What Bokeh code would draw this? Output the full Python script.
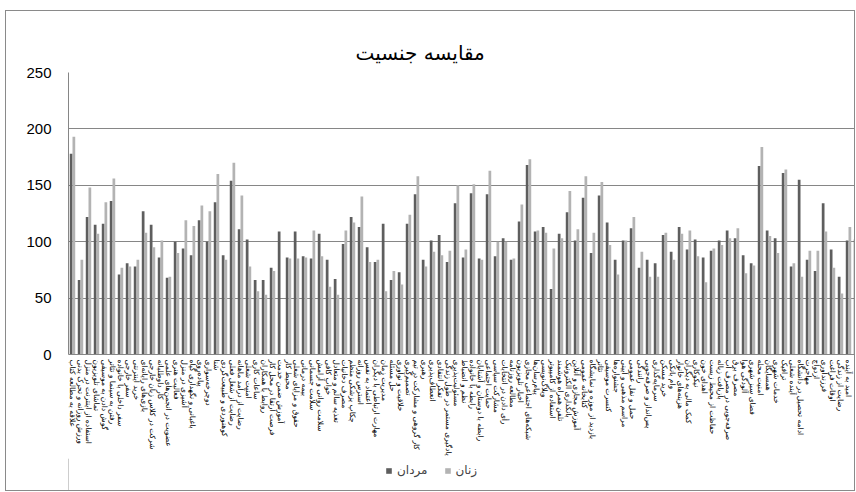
from bokeh.plotting import figure
from bokeh.models import ColumnDataSource, Range1d, FixedTicker, Legend, LegendItem
from bokeh.layouts import column
from bokeh.transform import dodge
from bokeh.embed import file_html
from bokeh.resources import INLINE

title_text = "مقایسه جنسیت"
series_names = ["مردان", "زنان"]
series_colors = ["#5e5e5e", "#b3b3b3"]

categories = [
    "علاقه به مطالعه کتاب", "ورزش روزانه و تحرک بدنی", "استفاده از اینترنت در منزل",
    "تماشای تلویزیون", "گوش دادن به موسیقی", "رفتن به سینما و تئاتر", "سفر داخلی با خانواده",
    "سفر خارجی", "خرید اینترنتی", "بازی‌های رایانه‌ای",
    "شرکت در کلاس زبان خارجی", "کار داوطلبانه", "عضویت در انجمن‌های علمی", "فعالیت هنری",
    "آشپزی در منزل", "باغبانی و نگهداری گیاه", "پیاده‌روی", "دوچرخه‌سواری", "شنا",
    "کوهنوردی و طبیعت‌گردی",
    "رضایت از شغل فعلی", "رضایت از درآمد ماهانه", "امنیت شغلی", "ساعات کاری",
    "روابط با همکاران", "فرصت ارتقا در محل کار", "آموزش ضمن خدمت", "محیط کار",
    "حقوق و مزایای شغلی", "بیمه درمانی",
    "سلامت جسمانی", "سلامت روانی و آرامش", "خواب کافی", "تغذیه سالم و متعادل",
    "مصرف دخانیات", "چکاپ پزشکی منظم", "استرس روزانه", "اعتماد به نفس",
    "مهارت ارتباطی با دیگران", "مدیریت زمان",
    "حل مسئله", "خلاقیت و نوآوری", "تصمیم‌گیری", "کار گروهی و مشارکت در تیم", "رهبری",
    "انعطاف‌پذیری", "تفکر انتقادی", "یادگیری مستمر در طول زندگی", "مسئولیت‌پذیری",
    "نظم و انضباط",
    "رابطه با خانواده", "رابطه با دوستان و آشنایان", "حمایت اجتماعی", "مشارکت سیاسی",
    "رأی دادن در انتخابات", "مطالعه روزنامه", "اخبار تلویزیون", "شبکه‌های اجتماعی مجازی",
    "پیام‌رسان‌ها", "وبلاگ‌نویسی",
    "استفاده از کامپیوتر", "تلفن همراه هوشمند", "بانکداری الکترونیک", "آموزش مجازی و آنلاین",
    "کتابخانه عمومی", "بازدید از موزه و نمایشگاه", "تئاتر", "کنسرت موسیقی",
    "جشنواره‌ها", "مراسم مذهبی و آیینی",
    "حمل و نقل عمومی", "رانندگی", "پس‌انداز و صرفه‌جویی", "سرمایه‌گذاری", "خرید مسکن",
    "وام بانکی", "هزینه‌های خانوار", "کمک مالی به دیگران", "نیکوکاری",
    "اهدای خون",
    "حفاظت از محیط زیست", "بازیافت زباله", "صرفه‌جویی در مصرف آب", "مصرف برق",
    "آلودگی هوا", "فضای سبز شهری", "امنیت محله", "همسایگان", "خدمات شهری", "ترافیک",
    "آینده شغلی", "ادامه تحصیل در دانشگاه", "مهاجرت", "ازدواج", "فرزندآوری",
    "اوقات فراغت", "رضایت از زندگی", "امید به آینده", "شادکامی",
]

men = [
    178, 66, 122, 115, 116, 136, 71, 81, 78, 127,
    115, 86, 68, 100, 94, 88, 119, 100, 135, 88,
    154, 111, 102, 66, 66, 77, 109, 86, 109, 87,
    85, 107, 84, 67, 98, 122, 113, 95, 82, 116,
    66, 73, 116, 142, 84, 101, 106, 82, 134, 86,
    143, 85, 142, 87, 103, 84, 118, 168, 109, 113,
    58, 107, 126, 101, 139, 90, 141, 117, 84, 101,
    112, 77, 84, 81, 106, 91, 113, 93, 102, 86,
    92, 101, 110, 103, 88, 81, 167, 110, 103, 161,
    78, 155, 84, 74, 134, 93, 69, 101, 102,
]

women = [
    193, 84, 148, 107, 135, 156, 77, 78, 84, 108,
    95, 101, 69, 90, 119, 114, 132, 127, 160, 84,
    170, 141, 78, 56, 53, 74, 0, 85, 85, 86,
    110, 87, 60, 53, 110, 117, 140, 82, 84, 56,
    74, 62, 124, 158, 78, 91, 88, 92, 150, 93,
    151, 84, 163, 100, 100, 85, 133, 173, 110, 108,
    94, 103, 145, 111, 158, 108, 153, 97, 71, 101,
    122, 91, 69, 69, 108, 84, 107, 110, 87, 64,
    94, 97, 103, 112, 72, 79, 184, 105, 90, 164,
    81, 69, 92, 92, 109, 77, 54, 113, 96,
]

y_ticks = [0, 50, 100, 150, 200, 250]

xs = list(range(1, len(categories) + 1))
source = ColumnDataSource(dict(x=xs, men=men, women=women, cat=categories))

W = 848
p = figure(width=W, height=447, output_backend="svg", toolbar_location=None,
           x_range=Range1d(0.5, 98.75), y_range=Range1d(0, 250),
           min_border_left=62, min_border_right=0, min_border_top=61, min_border_bottom=104)
p.outline_line_color = None
p.background_fill_color = "white"
p.border_fill_color = "white"

r_men = p.vbar(x=dodge("x", -0.17, range=p.x_range), top="men", width=0.34, source=source,
               fill_color=series_colors[0], line_color=None)
r_women = p.vbar(x=dodge("x", 0.17, range=p.x_range), top="women", width=0.34, source=source,
                 fill_color=series_colors[1], line_color=None)

p.title.text = title_text
p.title.text_font = "DejaVu Sans"
p.title.text_font_size = "20px"
p.title.text_font_style = "normal"
p.title.text_color = "#000000"
p.title.align = "left"
p.title.offset = 287
p.title.standoff = 15

p.xaxis.ticker = FixedTicker(ticks=xs)
p.xaxis.major_label_overrides = {x: c for x, c in zip(xs, categories)}
p.xaxis.major_label_orientation = "vertical"
p.xaxis.major_label_text_font = "DejaVu Sans"
p.xaxis.major_label_text_font_size = "7.5px"
p.xaxis.major_label_text_color = "#000000"
p.xaxis.major_label_standoff = 5
p.xaxis.major_tick_out = 0
p.xaxis.major_tick_in = 0
p.xaxis.axis_line_color = "#868686"
p.xaxis.major_tick_line_color = None
p.xaxis.minor_tick_line_color = None

p.yaxis.ticker = FixedTicker(ticks=y_ticks)
p.yaxis.major_label_text_font = "Liberation Sans"
p.yaxis.major_label_text_font_size = "15px"
p.yaxis.major_label_text_color = "#000000"
p.yaxis.major_label_standoff = 17
p.yaxis.major_tick_out = 0
p.yaxis.major_tick_in = 0
p.yaxis.axis_line_color = "#868686"
p.yaxis.major_tick_line_color = None
p.yaxis.minor_tick_line_color = None

p.xgrid.grid_line_color = None
p.ygrid.grid_line_color = "#868686"
p.ygrid.ticker = FixedTicker(ticks=y_ticks)

# legend strip below the chart
leg = figure(width=W, height=32, output_backend="svg", toolbar_location=None,
             x_range=Range1d(0, 1), y_range=Range1d(0, 1),
             min_border_left=0, min_border_right=0, min_border_top=0, min_border_bottom=0)
leg.axis.visible = False
leg.grid.visible = False
leg.outline_line_color = None
leg.background_fill_color = "white"
leg.border_fill_color = "white"
dummy = ColumnDataSource(dict(x=[-10], top=[1]))
d_men = leg.vbar(x="x", top="top", width=0.1, source=dummy, fill_color=series_colors[0], line_color=None)
d_women = leg.vbar(x="x", top="top", width=0.1, source=dummy, fill_color=series_colors[1], line_color=None)

legend = Legend(items=[LegendItem(label=series_names[0], renderers=[d_men]),
                       LegendItem(label=series_names[1], renderers=[d_women])],
                orientation="horizontal", location=(317, 13))
legend.label_text_font = "DejaVu Sans"
legend.label_text_font_size = "12px"
legend.glyph_width = 7
legend.glyph_height = 7
legend.spacing = 16
legend.label_standoff = 5
legend.padding = 2
legend.margin = 0
legend.border_line_color = None
legend.background_fill_alpha = 0
leg.add_layout(legend, "center")

layout = column(p, leg, spacing=0)
layout.styles = {"border": "1px solid #8a8a8a", "margin-left": "5px", "margin-top": "10px"}

open("out.html", "w").write(file_html(layout, INLINE))
